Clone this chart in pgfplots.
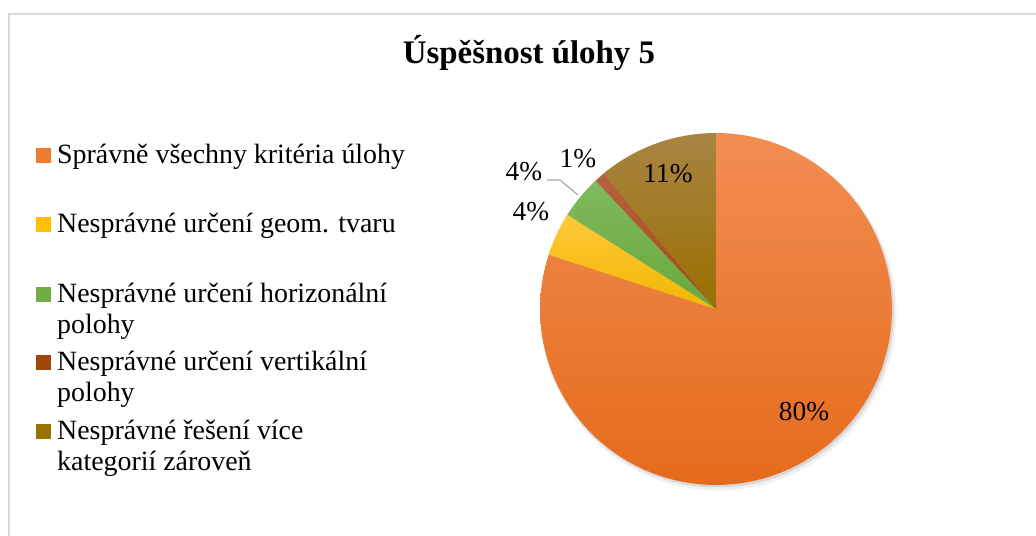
\documentclass[border=0pt]{standalone}
\usepackage{fontspec}
\setmainfont{Liberation Serif}
\usepackage{pgfplots}
\pgfplotsset{compat=1.18}
\definecolor{orA}{HTML}{F28D52}\definecolor{orB}{HTML}{E56B1C}
\definecolor{yeA}{HTML}{FFC83A}\definecolor{yeB}{HTML}{F2B700}
\definecolor{grA}{HTML}{80BA5E}\definecolor{grB}{HTML}{68A83C}
\definecolor{brA}{HTML}{B4643E}\definecolor{brB}{HTML}{A04A12}
\definecolor{olA}{HTML}{A98443}\definecolor{olB}{HTML}{996F00}
\definecolor{or}{HTML}{ED7D31}\definecolor{ye}{HTML}{FFC000}
\definecolor{gr}{HTML}{70AD47}\definecolor{br}{HTML}{9E480E}
\definecolor{ol}{HTML}{997300}
\definecolor{frame}{HTML}{D9D9D9}
% start (percent), value (percent), top colour, bottom colour
\newcommand{\slice}[4]{%
  \addplot[draw=none, top color=#3, bottom color=#4, domain=#1:#1+#2, samples=90, forget plot]
    ({716+176*sin(3.6*x)},{309-176*cos(3.6*x)}) -- (axis cs:716,309) -- cycle;}
\newcommand{\legsq}[2]{%
  \addplot[draw=none, fill=#1, forget plot] coordinates {(36,#2-15) (51,#2-15) (51,#2) (36,#2)} -- cycle;}
\begin{document}
\begin{tikzpicture}
\useasboundingbox (0,0) rectangle (1036bp,536bp);
\begin{axis}[at={(0,0)}, anchor=south west, width=1036bp, height=536bp, scale only axis,
  xmin=0, xmax=1036, ymin=0, ymax=536, y dir=reverse, hide axis, clip=false]
% frame
\draw[frame, line width=2bp] (axis cs:9,545) -- (axis cs:9,14) -- (axis cs:1045,14);
% title
\node[font=\bfseries\fontsize{33}{38}\selectfont] at (axis cs:529,53) {Úspěšnost úlohy 5};
% shadow
\addplot[draw=none, fill=black, fill opacity=0.06, domain=0:360, samples=120, forget plot] ({718.5+178*sin(x)},{312.5-178*cos(x)});
\addplot[draw=none, fill=black, fill opacity=0.10, domain=0:360, samples=120, forget plot] ({717.5+176.5*sin(x)},{311-176.5*cos(x)});
% slices: values 80, 4, 4, 1, 11 (%)
\slice{0}{80}{orA}{orB}
\slice{80}{4}{yeA}{yeB}
\slice{84}{4}{grA}{grB}
\slice{88}{1}{brA}{brB}
\slice{89}{11}{olA}{olB}
% data labels
\begin{scope}[every node/.style={font=\fontsize{27.5}{31}\selectfont}]
\node at (axis cs:804,412) {80\%};
\node at (axis cs:531,212) {4\%};
\node at (axis cs:524,172) {4\%};
\node at (axis cs:578,159) {1\%};
\node at (axis cs:668,174) {11\%};
\end{scope}
\addplot[color=black!35, line width=1.2bp, forget plot] coordinates {(547,180) (560,180) (578,195)};
% legend
\legsq{or}{163}
\legsq{ye}{232}
\legsq{gr}{302}
\legsq{br}{370}
\legsq{ol}{439}
\begin{scope}[every node/.style={font=\fontsize{28}{31}\selectfont, anchor=base west, inner sep=0pt}]
\node at (axis cs:57,163) {Správně všechny kritéria úlohy};
\node at (axis cs:57,232) {Nesprávné určení geom. tvaru};
\node at (axis cs:57,302) {Nesprávné určení horizonální};
\node at (axis cs:57,333) {polohy};
\node at (axis cs:57,370) {Nesprávné určení vertikální};
\node at (axis cs:57,401) {polohy};
\node at (axis cs:57,439) {Nesprávné řešení více};
\node at (axis cs:57,470) {kategorií zároveň};
\end{scope}
\end{axis}
\end{tikzpicture}
\end{document}
